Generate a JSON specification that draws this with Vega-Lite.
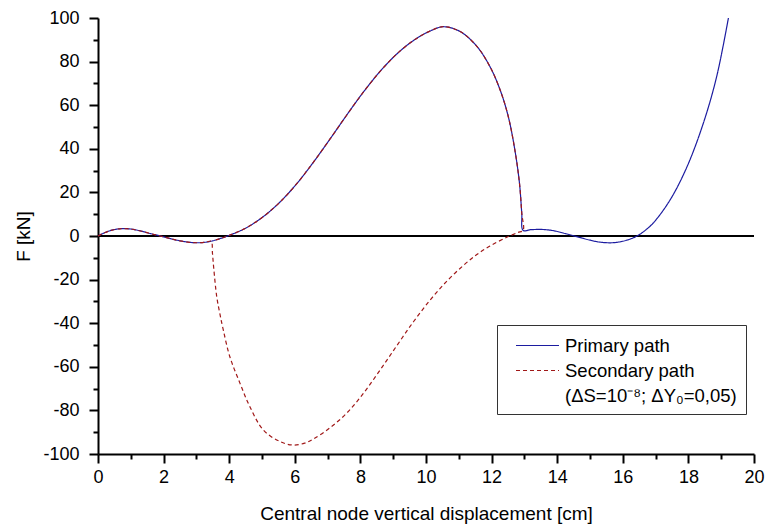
{
  "$schema": "https://vega.github.io/schema/vega-lite/v6.json",
  "width": 656,
  "height": 436,
  "autosize": "none",
  "padding": {"left": 98, "top": 18, "right": 12, "bottom": 72},
  "background": "white",
  "config": {
    "view": {"stroke": null},
    "font": "Liberation Sans",
    "axis": {
      "domainColor": "black", "domainWidth": 2, "tickColor": "black", "tickWidth": 2,
      "labelColor": "black", "titleColor": "black", "labelFont": "Liberation Sans", "titleFont": "Liberation Sans",
      "labelFontSize": 18, "titleFontSize": 19, "titleFontWeight": "normal", "grid": false,
      "labelOverlap": false, "labelFlush": false
    }
  },
  "datasets": {
    "zero": [{"x": 0, "xe": 20, "y": 0}],
    "curves": [
      {"s": "Primary path", "i": 0, "x": 0, "y": 0},
      {"s": "Primary path", "i": 1, "x": 0.2, "y": 1.5},
      {"s": "Primary path", "i": 2, "x": 0.4, "y": 2.6},
      {"s": "Primary path", "i": 3, "x": 0.6, "y": 3.2},
      {"s": "Primary path", "i": 4, "x": 0.82, "y": 3.4},
      {"s": "Primary path", "i": 5, "x": 1.05, "y": 3.1},
      {"s": "Primary path", "i": 6, "x": 1.3, "y": 2.3},
      {"s": "Primary path", "i": 7, "x": 1.6, "y": 1.1},
      {"s": "Primary path", "i": 8, "x": 1.9, "y": 0},
      {"s": "Primary path", "i": 9, "x": 2.2, "y": -1.2},
      {"s": "Primary path", "i": 10, "x": 2.5, "y": -2.2},
      {"s": "Primary path", "i": 11, "x": 2.8, "y": -2.9},
      {"s": "Primary path", "i": 12, "x": 3.05, "y": -3.1},
      {"s": "Primary path", "i": 13, "x": 3.3, "y": -2.8},
      {"s": "Primary path", "i": 14, "x": 3.5, "y": -2.2},
      {"s": "Primary path", "i": 15, "x": 3.7, "y": -1.3},
      {"s": "Primary path", "i": 16, "x": 3.95, "y": 0},
      {"s": "Primary path", "i": 17, "x": 4.5, "y": 3.6},
      {"s": "Primary path", "i": 18, "x": 5.04, "y": 8.9},
      {"s": "Primary path", "i": 19, "x": 5.55, "y": 15.6},
      {"s": "Primary path", "i": 20, "x": 6.06, "y": 24.0},
      {"s": "Primary path", "i": 21, "x": 6.56, "y": 33.7},
      {"s": "Primary path", "i": 22, "x": 7.07, "y": 44.4},
      {"s": "Primary path", "i": 23, "x": 7.58, "y": 55.4},
      {"s": "Primary path", "i": 24, "x": 8.09, "y": 66.0},
      {"s": "Primary path", "i": 25, "x": 8.6, "y": 75.5},
      {"s": "Primary path", "i": 26, "x": 9.11, "y": 83.5},
      {"s": "Primary path", "i": 27, "x": 9.61, "y": 89.6},
      {"s": "Primary path", "i": 28, "x": 10.12, "y": 94.0},
      {"s": "Primary path", "i": 29, "x": 10.53, "y": 96.0},
      {"s": "Primary path", "i": 30, "x": 11.04, "y": 93.8},
      {"s": "Primary path", "i": 31, "x": 11.55, "y": 87},
      {"s": "Primary path", "i": 32, "x": 11.95, "y": 77.7},
      {"s": "Primary path", "i": 33, "x": 12.26, "y": 67},
      {"s": "Primary path", "i": 34, "x": 12.51, "y": 54.7},
      {"s": "Primary path", "i": 35, "x": 12.71, "y": 39.4},
      {"s": "Primary path", "i": 36, "x": 12.85, "y": 24.2},
      {"s": "Primary path", "i": 37, "x": 12.92, "y": 10.4},
      {"s": "Primary path", "i": 38, "x": 12.96, "y": 2.6},
      {"s": "Primary path", "i": 39, "x": 13.2, "y": 2.9},
      {"s": "Primary path", "i": 40, "x": 13.55, "y": 3.0},
      {"s": "Primary path", "i": 41, "x": 13.9, "y": 2.4},
      {"s": "Primary path", "i": 42, "x": 14.25, "y": 1.1},
      {"s": "Primary path", "i": 43, "x": 14.6, "y": -0.3},
      {"s": "Primary path", "i": 44, "x": 15.0, "y": -1.9},
      {"s": "Primary path", "i": 45, "x": 15.3, "y": -2.8},
      {"s": "Primary path", "i": 46, "x": 15.66, "y": -3.1},
      {"s": "Primary path", "i": 47, "x": 16.0, "y": -2.4},
      {"s": "Primary path", "i": 48, "x": 16.37, "y": -0.5},
      {"s": "Primary path", "i": 49, "x": 16.65, "y": 2.2},
      {"s": "Primary path", "i": 50, "x": 16.93, "y": 6.0},
      {"s": "Primary path", "i": 51, "x": 17.44, "y": 16.5},
      {"s": "Primary path", "i": 52, "x": 17.95, "y": 31.5},
      {"s": "Primary path", "i": 53, "x": 18.45, "y": 51.5},
      {"s": "Primary path", "i": 54, "x": 18.86, "y": 73},
      {"s": "Primary path", "i": 55, "x": 19.22, "y": 100},
      {"s": "Secondary path", "i": 0, "x": 0, "y": 0},
      {"s": "Secondary path", "i": 1, "x": 0.2, "y": 1.5},
      {"s": "Secondary path", "i": 2, "x": 0.4, "y": 2.6},
      {"s": "Secondary path", "i": 3, "x": 0.6, "y": 3.2},
      {"s": "Secondary path", "i": 4, "x": 0.82, "y": 3.4},
      {"s": "Secondary path", "i": 5, "x": 1.05, "y": 3.1},
      {"s": "Secondary path", "i": 6, "x": 1.3, "y": 2.3},
      {"s": "Secondary path", "i": 7, "x": 1.6, "y": 1.1},
      {"s": "Secondary path", "i": 8, "x": 1.9, "y": 0},
      {"s": "Secondary path", "i": 9, "x": 2.2, "y": -1.2},
      {"s": "Secondary path", "i": 10, "x": 2.5, "y": -2.2},
      {"s": "Secondary path", "i": 11, "x": 2.8, "y": -2.9},
      {"s": "Secondary path", "i": 12, "x": 3.05, "y": -3.1},
      {"s": "Secondary path", "i": 13, "x": 3.3, "y": -2.8},
      {"s": "Secondary path", "i": 14, "x": 3.45, "y": -2.4},
      {"s": "Secondary path", "i": 15, "x": 3.49, "y": -8},
      {"s": "Secondary path", "i": 16, "x": 3.53, "y": -15},
      {"s": "Secondary path", "i": 17, "x": 3.62, "y": -27.8},
      {"s": "Secondary path", "i": 18, "x": 3.72, "y": -36},
      {"s": "Secondary path", "i": 19, "x": 3.82, "y": -43.1},
      {"s": "Secondary path", "i": 20, "x": 4.02, "y": -55.4},
      {"s": "Secondary path", "i": 21, "x": 4.33, "y": -67.6},
      {"s": "Secondary path", "i": 22, "x": 4.63, "y": -78.3},
      {"s": "Secondary path", "i": 23, "x": 5.04, "y": -89},
      {"s": "Secondary path", "i": 24, "x": 5.55, "y": -94.3},
      {"s": "Secondary path", "i": 25, "x": 5.95, "y": -95.9},
      {"s": "Secondary path", "i": 26, "x": 6.3, "y": -95},
      {"s": "Secondary path", "i": 27, "x": 6.56, "y": -93.2},
      {"s": "Secondary path", "i": 28, "x": 7.07, "y": -88.0},
      {"s": "Secondary path", "i": 29, "x": 7.58, "y": -81.3},
      {"s": "Secondary path", "i": 30, "x": 8.09, "y": -72.2},
      {"s": "Secondary path", "i": 31, "x": 8.6, "y": -61.5},
      {"s": "Secondary path", "i": 32, "x": 9.11, "y": -50.3},
      {"s": "Secondary path", "i": 33, "x": 9.61, "y": -39.5},
      {"s": "Secondary path", "i": 34, "x": 10.12, "y": -29.5},
      {"s": "Secondary path", "i": 35, "x": 10.63, "y": -20.8},
      {"s": "Secondary path", "i": 36, "x": 11.14, "y": -13.5},
      {"s": "Secondary path", "i": 37, "x": 11.55, "y": -8.5},
      {"s": "Secondary path", "i": 38, "x": 11.95, "y": -4.6},
      {"s": "Secondary path", "i": 39, "x": 12.46, "y": -0.6},
      {"s": "Secondary path", "i": 40, "x": 12.8, "y": 1.6},
      {"s": "Secondary path", "i": 41, "x": 12.96, "y": 2.6},
      {"s": "Secondary path", "i": 42, "x": 12.92, "y": 10.4},
      {"s": "Secondary path", "i": 43, "x": 12.85, "y": 24.2},
      {"s": "Secondary path", "i": 44, "x": 12.71, "y": 39.4},
      {"s": "Secondary path", "i": 45, "x": 12.51, "y": 54.7},
      {"s": "Secondary path", "i": 46, "x": 12.26, "y": 67},
      {"s": "Secondary path", "i": 47, "x": 11.95, "y": 77.7},
      {"s": "Secondary path", "i": 48, "x": 11.55, "y": 87},
      {"s": "Secondary path", "i": 49, "x": 11.04, "y": 93.8},
      {"s": "Secondary path", "i": 50, "x": 10.53, "y": 96.0},
      {"s": "Secondary path", "i": 51, "x": 10.12, "y": 94.0},
      {"s": "Secondary path", "i": 52, "x": 9.61, "y": 89.6},
      {"s": "Secondary path", "i": 53, "x": 9.11, "y": 83.5},
      {"s": "Secondary path", "i": 54, "x": 8.6, "y": 75.5},
      {"s": "Secondary path", "i": 55, "x": 8.09, "y": 66.0},
      {"s": "Secondary path", "i": 56, "x": 7.58, "y": 55.4},
      {"s": "Secondary path", "i": 57, "x": 7.07, "y": 44.4},
      {"s": "Secondary path", "i": 58, "x": 6.56, "y": 33.7},
      {"s": "Secondary path", "i": 59, "x": 6.06, "y": 24.0},
      {"s": "Secondary path", "i": 60, "x": 5.55, "y": 15.6},
      {"s": "Secondary path", "i": 61, "x": 5.04, "y": 8.9},
      {"s": "Secondary path", "i": 62, "x": 4.5, "y": 3.6},
      {"s": "Secondary path", "i": 63, "x": 3.95, "y": 0},
      {"s": "Secondary path", "i": 64, "x": 3.7, "y": -1.3},
      {"s": "Secondary path", "i": 65, "x": 3.5, "y": -2.2}
    ]
  },
  "encoding": {
    "x": {
      "field": "x", "type": "quantitative",
      "scale": {"domain": [0, 20], "nice": false, "zero": false},
      "axis": {
        "title": "Central node vertical displacement [cm]",
        "values": [0,1,2,3,4,5,6,7,8,9,10,11,12,13,14,15,16,17,18,19,20],
        "labelExpr": "datum.value % 2 === 0 ? '' + datum.value : ''",
        "tickSize": {"condition": {"test": "datum.value % 2 === 0", "value": 9}, "value": 5},
        "labelPadding": 5, "titlePadding": 18
      }
    },
    "y": {
      "field": "y", "type": "quantitative",
      "scale": {"domain": [-100, 100], "nice": false, "zero": false},
      "axis": {
        "title": "F [kN]",
        "values": [-100,-90,-80,-70,-60,-50,-40,-30,-20,-10,0,10,20,30,40,50,60,70,80,90,100],
        "labelExpr": "datum.value % 20 === 0 ? '' + datum.value : ''",
        "tickSize": {"condition": {"test": "datum.value % 20 === 0", "value": 9}, "value": 5},
        "labelPadding": 10, "titlePadding": 9
      }
    }
  },
  "layer": [
    {
      "data": {"name": "zero"},
      "mark": {"type": "rule", "color": "black", "strokeWidth": 2},
      "encoding": {"x2": {"field": "xe"}}
    },
    {
      "data": {"name": "curves"},
      "transform": [{"filter": "datum.s === 'Primary path'"}],
      "mark": {"type": "line", "strokeWidth": 1.2, "interpolate": "catmull-rom"},
      "encoding": {
        "order": {"field": "i", "type": "quantitative"},
        "color": {
          "field": "s", "type": "nominal",
          "scale": {"domain": ["Primary path", "Secondary path", "(ΔS=10⁻⁸; ΔY₀=0,05)"], "range": ["#1c1ca0", "#a01818", "rgba(0,0,0,0)"]},
          "legend": {"title": null, "orient": "none", "legendX": 399, "legendY": 307, "strokeColor": "#333333", "fillColor": "white", "padding": 9, "symbolType": "M-2,0H2", "symbolSize": 462, "symbolStrokeWidth": 1.2, "symbolOffset": 20, "labelFontSize": 18.5, "labelOffset": 16, "rowPadding": 4, "labelFont": "Liberation Sans", "labelColor": "black", "labelLimit": 400}
        },
        "strokeDash": {
          "field": "s", "type": "nominal",
          "scale": {"domain": ["Primary path", "Secondary path", "(ΔS=10⁻⁸; ΔY₀=0,05)"], "range": [[1, 0], [4, 3], [1, 0]]},
          "legend": {"title": null, "orient": "none", "legendX": 399, "legendY": 307, "strokeColor": "#333333", "fillColor": "white", "padding": 9, "symbolType": "M-2,0H2", "symbolSize": 462, "symbolStrokeWidth": 1.2, "symbolOffset": 20, "labelFontSize": 18.5, "labelOffset": 16, "rowPadding": 4, "labelFont": "Liberation Sans", "labelColor": "black", "labelLimit": 400}
        }
      }
    },
    {
      "data": {"name": "curves"},
      "transform": [{"filter": "datum.s === 'Secondary path'"}],
      "mark": {"type": "line", "strokeWidth": 1.2, "interpolate": "catmull-rom"},
      "encoding": {
        "order": {"field": "i", "type": "quantitative"},
        "color": {"field": "s", "type": "nominal"},
        "strokeDash": {"field": "s", "type": "nominal"}
      }
    }
  ]
}
